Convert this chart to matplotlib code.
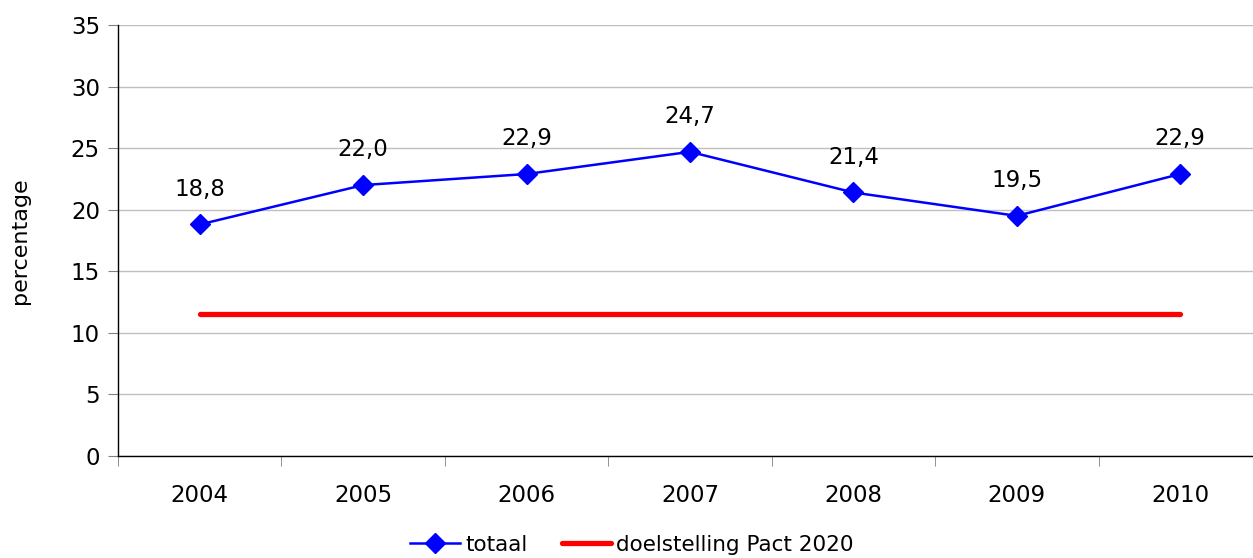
import matplotlib.pyplot as plt
from matplotlib.ticker import MultipleLocator, FixedLocator

years = ['2004', '2005', '2006', '2007', '2008', '2009', '2010']
totaal = [18.8, 22.0, 22.9, 24.7, 21.4, 19.5, 22.9]
doel = [11.5, 11.5, 11.5, 11.5, 11.5, 11.5, 11.5]

plt.rcParams['font.family'] = ['Verdana', 'DejaVu Sans']

fig = plt.figure(figsize=(12.53, 5.58), dpi=100)
ax = fig.add_axes([118 / 1253, 102 / 558, (1262 - 118) / 1253, 431 / 558])

x = list(range(len(years)))
ax.plot(x, totaal, color='#0000ff', lw=1.8, marker='D', markersize=10,
        label='totaal', zorder=3)
ax.plot(x, doel, color='#ff0000', lw=3.8, solid_capstyle='round',
        label='doelstelling Pact 2020', zorder=2)

# datalabels boven de punten
for xi, v in zip(x, totaal):
    ax.annotate(f'{v:.1f}'.replace('.', ','), (xi, v), xytext=(0, 17),
                textcoords='offset points', ha='center', va='bottom', fontsize=16.5)

ax.set_xlim(-0.5, len(years) - 0.5)
ax.set_ylim(0, 35)
ax.yaxis.set_major_locator(MultipleLocator(5))
ax.set_xticks(x)
ax.set_xticklabels(years)
ax.xaxis.set_minor_locator(FixedLocator([i + 0.5 for i in range(-1, len(years))]))
ax.tick_params(axis='x', which='major', length=0, pad=20, labelsize=16.5)
ax.tick_params(axis='x', which='minor', length=7, color='#808080', direction='out')
ax.tick_params(axis='y', length=7, color='#808080', labelsize=16.5, pad=6)
ax.grid(axis='y', color='#c0c0c0', lw=1)
ax.set_axisbelow(True)
for s in ['top', 'right']:
    ax.spines[s].set_visible(False)
for s in ['left', 'bottom']:
    ax.spines[s].set_color('#000000')
    ax.spines[s].set_linewidth(1)
ax.set_ylabel('percentage', fontsize=16, labelpad=29)

fig.legend(loc='center', bbox_to_anchor=(632 / 1253, 1 - 545 / 558), ncol=2,
           frameon=False, fontsize=15.5, handlelength=2.3, columnspacing=1.6,
           handletextpad=0.25)

fig.savefig('out.png', dpi=100)
